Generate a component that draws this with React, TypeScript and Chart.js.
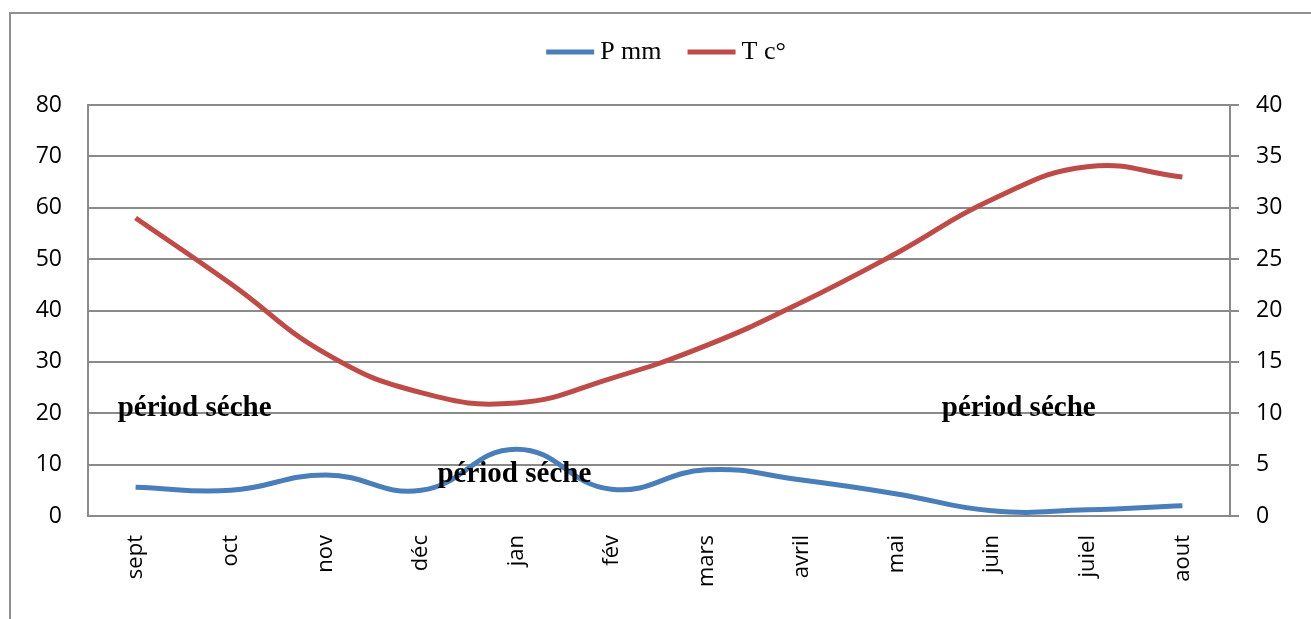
import React, { useEffect, useRef } from "react";
import { Chart, registerables } from "chart.js";

Chart.register(...registerables);

// ---- data ----
const months = ["sept", "oct", "nov", "déc", "jan", "fév", "mars", "avril", "mai", "juin", "juiel", "aout"];
const precipitation = [5.6, 5, 8, 5, 13, 5.2, 9, 7, 4.3, 1, 1.2, 2];
const temperature = [29, 22.6, 15.8, 12, 11, 13.4, 16.6, 20.8, 25.6, 30.8, 34, 33];
const seriesLabels = ["P mm", "T c°"];
const leftAxisRange = [0, 80, 10];
const rightAxisRange = [0, 40, 5];
const annotationTexts = ["périod séche", "périod séche", "périod séche"];
const annotationX = [0.62, 3.98, 9.28];
const annotationY = [19.4, 6.7, 19.4];

const GRID = "#8a8a8a";
const BLUE = "#4A7EBB";
const RED = "#BE4B48";
const TICK_FONT = { family: '"Open Sans", sans-serif', size: 23 };
const X_TICK_FONT = { family: '"Open Sans", sans-serif', size: 22 };

const legendPlugin = {
  id: "serifLegend",
  afterDraw(chart: any) {
    const ctx = chart.ctx;
    ctx.save();
    ctx.font = '26px "Liberation Serif", serif';
    const lineW = 48;
    const gap = 6;
    const itemGap = 26;
    const items = chart.data.datasets.map((ds: any) => ({
      text: ds.label,
      color: ds.borderColor,
      w: ctx.measureText(ds.label).width,
    }));
    const total =
      items.reduce((s: number, it: any) => s + lineW + gap + it.w, 0) + itemGap * (items.length - 1);
    let x = chart.width / 2 - total / 2 - 2;
    const y = 52;
    items.forEach((it: any) => {
      ctx.fillStyle = it.color;
      ctx.fillRect(x, y - 2.5, lineW, 5);
      ctx.fillStyle = "#000";
      ctx.textAlign = "left";
      ctx.textBaseline = "middle";
      ctx.fillText(it.text, x + lineW + gap, y);
      x += lineW + gap + it.w + itemGap;
    });
    ctx.restore();
  },
};

const annotationPlugin = {
  id: "periodLabels",
  afterDatasetsDraw(chart: any) {
    const ctx = chart.ctx;
    const xs = chart.scales.x;
    const ys = chart.scales.y;
    ctx.save();
    ctx.font = 'bold 29px "Liberation Serif", serif';
    ctx.fillStyle = "#000";
    ctx.textAlign = "center";
    ctx.textBaseline = "alphabetic";
    annotationTexts.forEach((t, i) => {
      const px = xs.getPixelForValue(annotationX[i]);
      const py = ys.getPixelForValue(annotationY[i]);
      ctx.fillText(t, px, py);
    });
    ctx.restore();
  },
};

export default function App() {
  const canvasRef = useRef<HTMLCanvasElement | null>(null);

  useEffect(() => {
    const canvas = canvasRef.current;
    if (!canvas) return;
    const chart = new Chart(canvas, {
      type: "line",
      data: {
        labels: months,
        datasets: [
          {
            label: seriesLabels[0],
            data: precipitation,
            borderColor: BLUE,
            backgroundColor: BLUE,
            borderWidth: 5,
            pointRadius: 0,
            tension: 0.45,
            yAxisID: "y",
            fill: false,
          },
          {
            label: seriesLabels[1],
            data: temperature,
            borderColor: RED,
            backgroundColor: RED,
            borderWidth: 5,
            pointRadius: 0,
            tension: 0.45,
            yAxisID: "y1",
            fill: false,
          },
        ],
      },
      options: {
        animation: false,
        responsive: false,
        devicePixelRatio: 1,
        layout: { padding: { top: 105, left: 0, right: 0, bottom: 0 } },
        plugins: {
          legend: { display: false },
          tooltip: { enabled: false },
        },
        scales: {
          x: {
            type: "category",
            offset: true,
            grid: { display: false, drawTicks: false },
            border: { display: true, color: GRID, width: 2 },
            ticks: {
              minRotation: 90,
              maxRotation: 90,
              padding: 19,
              color: "#000",
              font: X_TICK_FONT,
              autoSkip: false,
            },
            afterFit: (s: any) => {
              s.height = 103;
            },
          },
          y: {
            position: "left",
            min: leftAxisRange[0],
            max: leftAxisRange[1],
            ticks: { stepSize: leftAxisRange[2], padding: 26, color: "#000", font: TICK_FONT },
            grid: { color: GRID, lineWidth: 2, drawTicks: false },
            border: { color: GRID, width: 2 },
            afterFit: (s: any) => {
              s.width = 88;
            },
          },
          y1: {
            position: "right",
            min: rightAxisRange[0],
            max: rightAxisRange[1],
            ticks: { stepSize: rightAxisRange[2], padding: 17, color: "#000", font: TICK_FONT },
            grid: { color: GRID, lineWidth: 2, drawOnChartArea: false, drawTicks: true, tickLength: 9 },
            border: { color: GRID, width: 2 },
            afterFit: (s: any) => {
              s.width = 106;
            },
          },
        },
      },
      plugins: [annotationPlugin, legendPlugin],
    });
    return () => chart.destroy();
  }, []);

  return (
    <div
      style={{
        position: "fixed",
        left: 0,
        top: 0,
        width: 1311,
        height: 619,
        overflow: "hidden",
        background: "#fff",
      }}
    >
      <div
        style={{
          position: "absolute",
          left: 9,
          top: 12,
          width: 1400,
          height: 700,
          border: "2px solid #909090",
          boxSizing: "border-box",
        }}
      />
      <canvas
        ref={canvasRef}
        width={1336}
        height={619}
        style={{ position: "absolute", left: 0, top: 0, width: 1336, height: 619 }}
      />
    </div>
  );
}
